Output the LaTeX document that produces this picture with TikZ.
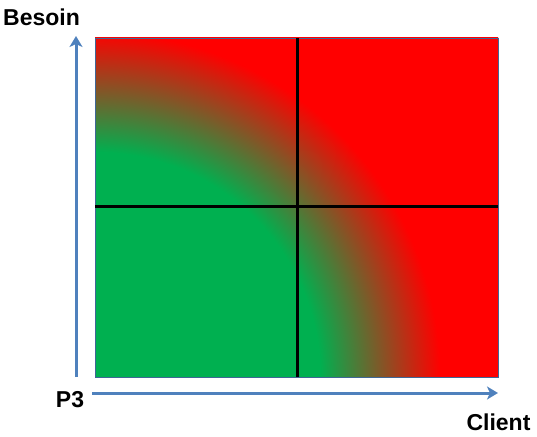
\documentclass[tikz,border=0pt]{standalone}
\usepackage{fontspec}
\setmainfont{Liberation Sans}
\usetikzlibrary{arrows.meta}
\definecolor{offgreen}{RGB}{0,176,80}
\definecolor{offred}{RGB}{255,0,0}
\definecolor{axisblue}{RGB}{79,129,189}
\pgfdeclareradialshading{quarter}{\pgfpoint{0pt}{0pt}}{%
  color(0pt)=(offgreen); color(225pt)=(offgreen);
  color(345pt)=(offred); color(540pt)=(offred)}
\tikzset{
  axis/.style={draw=axisblue, line width=3pt, -{Stealth[length=11pt,width=13pt,inset=3pt]}},
  grid/.style={draw=black, line width=3pt},
  lbl/.style={font=\bfseries\fontsize{23}{26}\selectfont, inner sep=0pt}
}
\begin{document}
\begin{tikzpicture}[x=1pt,y=1pt]
\useasboundingbox (0,0) rectangle (537,436);
\coordinate (ll) at (95,59);
\coordinate (ur) at (498,398);
\begin{scope}
  \clip (ll) rectangle (ur);
  \fill[offred] (ll) rectangle (ur);
  \node[inner sep=0pt, outer sep=0pt] (shade) at (ll) {\pgfuseshading{quarter}};
\end{scope}
\draw[axisblue!80!black, line width=0.6pt] (ll) rectangle (ur);
\coordinate (vtop) at (297,398);
\coordinate (vbot) at (297,59);
\coordinate (hl) at (95,229);
\coordinate (hr) at (498,229);
\draw[grid] (vbot) -- (vtop);
\draw[grid] (hl) -- (hr);
\coordinate (ya0) at (76,59);
\coordinate (ya1) at (76,400);
\coordinate (xa0) at (92,43);
\coordinate (xa1) at (498,43);
\draw[axis] (ya0) -- (ya1);
\draw[axis] (xa0) -- (xa1);
\node[lbl] (besoin) at (41.5,419) {Besoin};
\node[lbl] (p3) at (70,36.5) {P3};
\node[lbl] (client) at (498.5,13.5) {Client};
\end{tikzpicture}
\end{document}
